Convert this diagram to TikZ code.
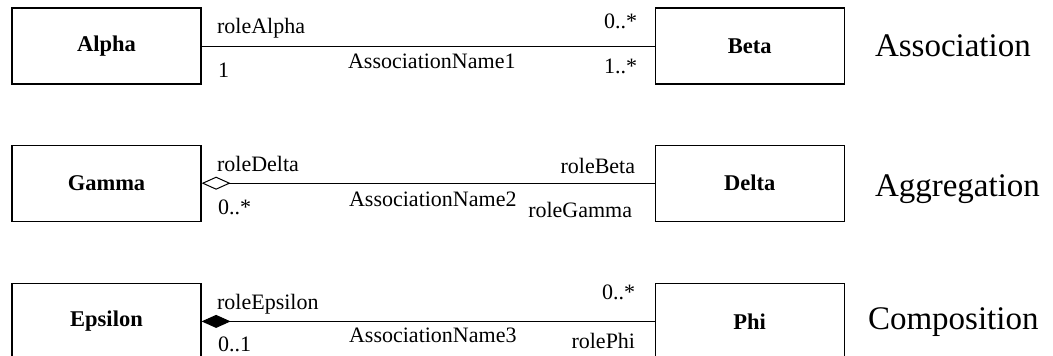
\documentclass[tikz,border=0pt]{standalone}
\usepackage{fontspec}
\setmainfont{Liberation Serif}
\usetikzlibrary{arrows.meta,positioning}
\tikzset{
  classbox/.style={
    draw,
    line width=1.2pt,
    minimum width=189pt,
    minimum height=76pt,
    font=\fontsize{22.5}{26}\selectfont\bfseries
  },
  assocline/.style={
    draw,
    line width=1pt
  },
  rolelabel/.style={
    inner sep=0pt,
    font=\fontsize{22}{26}\selectfont
  },
  kindlabel/.style={
    inner sep=0pt,
    anchor=base west,
    font=\fontsize{33}{38}\selectfont
  }
}

\begin{document}
\begin{tikzpicture}[x=1pt,y=-1pt,node distance=60.5pt and 453pt]
\useasboundingbox (0,0) rectangle (1053,356);
% classes
\node[classbox] (alpha) at (106.5,46) {Alpha};
\node[classbox, right=of alpha] (beta) {Beta};
\node[classbox, below=60pt of alpha] (gamma) {Gamma};
\node[classbox, right=of gamma] (delta) {Delta};
\node[classbox, below=61pt of gamma] (epsilon) {Epsilon};
\node[classbox, right=of epsilon] (phi) {Phi};
% kinds
\node[kindlabel, right=30pt of beta.east, anchor=base west, yshift=-10pt] (assockind) {Association};
\node[kindlabel, right=30pt of delta.east, anchor=base west, yshift=-13pt] (aggrkind) {Aggregation};
\node[kindlabel, right=23pt of phi.east, anchor=base west, yshift=-8pt] (compkind) {Composition};
% association
\draw[assocline] (alpha) -- (beta)
  node[rolelabel, at start, anchor=base west, xshift=15pt, yshift=12pt] {roleAlpha}
  node[rolelabel, at start, anchor=base west, xshift=16pt, yshift=-31pt] {1}
  node[rolelabel, at start, anchor=base west, xshift=146pt, yshift=-22pt] {AssociationName1}
  node[rolelabel, at end, anchor=base east, xshift=-17pt, yshift=18pt] {0..*}
  node[rolelabel, at end, anchor=base east, xshift=-17pt, yshift=-27pt] {1..*};
% aggregation
\draw[assocline, {Diamond[open,length=29pt,width=13pt]}-] (gamma) -- (delta)
  node[rolelabel, at start, anchor=base west, xshift=15pt, yshift=12pt] {roleDelta}
  node[rolelabel, at start, anchor=base west, xshift=16pt, yshift=-31pt] {0..*}
  node[rolelabel, at start, anchor=base west, xshift=147pt, yshift=-23pt] {AssociationName2}
  node[rolelabel, at end, anchor=base east, xshift=-19pt, yshift=10pt] {roleBeta}
  node[rolelabel, at end, anchor=base east, xshift=-22pt, yshift=-34pt] {roleGamma};
% composition
\draw[assocline, {Diamond[length=29pt,width=13pt]}-] (epsilon) -- (phi)
  node[rolelabel, at start, anchor=base west, xshift=15pt, yshift=12pt] {roleEpsilon}
  node[rolelabel, at start, anchor=base west, xshift=16pt, yshift=-30pt] {0..1}
  node[rolelabel, at start, anchor=base west, xshift=147pt, yshift=-21pt] {AssociationName3}
  node[rolelabel, at end, anchor=base east, xshift=-19pt, yshift=22pt] {0..*}
  node[rolelabel, at end, anchor=base east, xshift=-19pt, yshift=-27pt] {rolePhi};
\end{tikzpicture}
\end{document}
